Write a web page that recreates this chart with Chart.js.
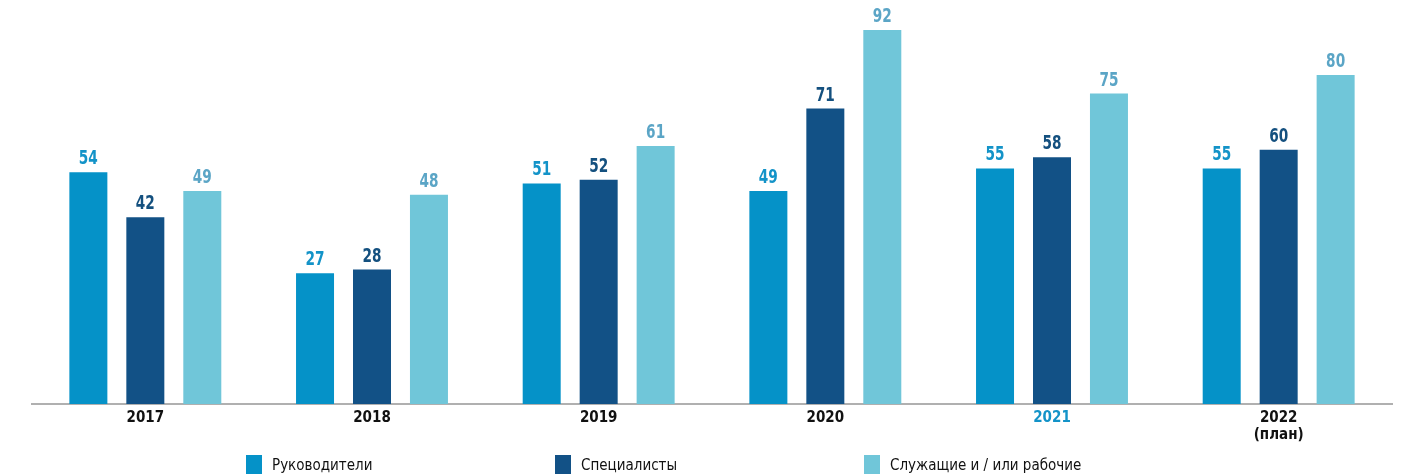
<!DOCTYPE html>
<html><head><meta charset="utf-8">
<script src="https://cdn.jsdelivr.net/npm/chart.js@4.4.1/dist/chart.umd.min.js"></script>
<style>
html,body{margin:0;padding:0;background:#fff;}
#wrap{position:relative;width:1403px;height:474px;overflow:hidden;}
#c{position:absolute;left:0;top:0;}
.lg{position:absolute;top:455px;display:flex;align-items:flex-start;font-family:'Liberation Sans Narrow','DejaVu Sans Condensed',sans-serif;font-size:15px;color:#111;}
.lg span.sw{display:inline-block;width:16px;height:20px;margin-right:10px;}
.lg span.tx{line-height:20px;}
</style></head>
<body><div id="wrap"><canvas id="c" width="1403" height="474"></canvas><div id="legend"></div></div>
<script>
const categories = [['2017'], ['2018'], ['2019'], ['2020'], ['2021'], ['2022', '(план)']];
const seriesNames = ['Руководители', 'Специалисты', 'Служащие и / или рабочие'];
const managers = [54, 27, 51, 49, 55, 55];
const specialists = [42, 28, 52, 71, 58, 60];
const workers = [49, 48, 61, 92, 75, 80];

const barColors = ['#0592c8', '#125186', '#70c6d9'];
const labelColors = ['#1393c8', '#14507f', '#5ba5c6'];
const FONT = "'Liberation Sans Narrow','DejaVu Sans Condensed',sans-serif";
const AXIS_MIN = -7.9;

const valueLabels = {
  id: 'valueLabels',
  afterDatasetsDraw(chart) {
    const ctx = chart.ctx;
    chart.data.datasets.forEach((ds, i) => {
      const meta = chart.getDatasetMeta(i);
      meta.data.forEach((bar, j) => {
        ctx.save();
        ctx.font = 'bold 19px ' + FONT;
        ctx.textAlign = 'center';
        ctx.textBaseline = 'alphabetic';
        ctx.fillStyle = labelColors[i];
        ctx.translate(bar.x, bar.y - 8);
        ctx.scale(0.8, 1);
        ctx.fillText(String(ds.data[j]), 0, 0);
        ctx.restore();
      });
    });
  }
};

const seriesData = [managers, specialists, workers];
new Chart(document.getElementById('c'), {
  type: 'bar',
  data: {
    labels: categories,
    datasets: seriesData.map((d, i) => ({
      label: seriesNames[i],
      data: d,
      backgroundColor: barColors[i],
      base: AXIS_MIN,
      categoryPercentage: 0.754,
      barPercentage: 0.667
    }))
  },
  options: {
    responsive: false,
    animation: false,
    layout: { padding: { left: 32, right: 11, top: 0, bottom: 25 } },
    plugins: { legend: { display: false }, tooltip: { enabled: false } },
    scales: {
      x: {
        grid: { display: false, drawTicks: false },
        border: { display: true, color: '#b0b0b0', width: 2 },
        ticks: {
          padding: 6,
          font: { family: FONT, size: 15, weight: 'bold', lineHeight: 1.1 },
          color: (c) => c.index === 4 ? '#1393c8' : '#111111',
          maxRotation: 0, autoSkip: false
        }
      },
      y: { display: false, min: AXIS_MIN, max: 100 }
    }
  },
  plugins: [valueLabels]
});

const lg = document.getElementById('legend');
const lgX = [246, 555, 864];
seriesNames.forEach((n, i) => {
  const d = document.createElement('div');
  d.className = 'lg';
  d.style.left = lgX[i] + 'px';
  d.innerHTML = '<span class="sw" style="background:' + barColors[i] + '"></span><span class="tx">' + n + '</span>';
  lg.appendChild(d);
});
</script></body></html>
